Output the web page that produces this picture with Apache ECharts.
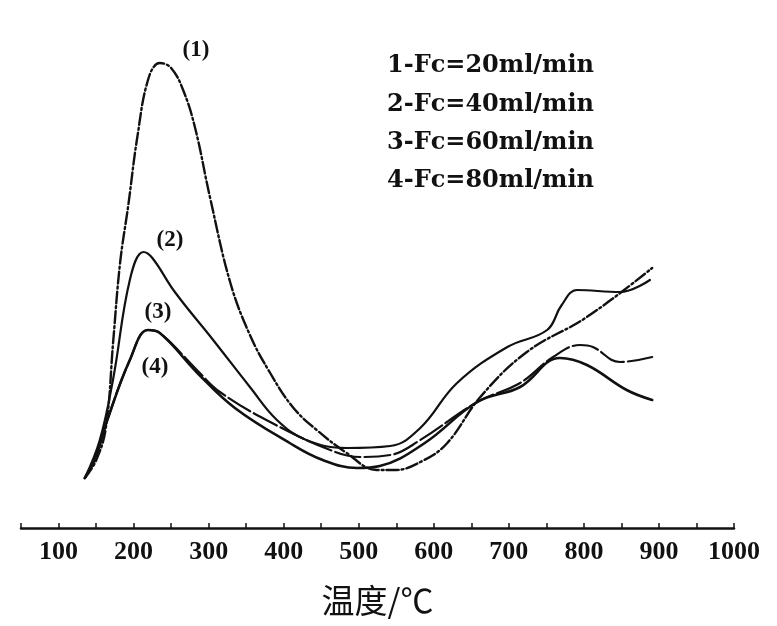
<!DOCTYPE html>
<html>
<head>
<meta charset="utf-8">
<script src="https://cdn.jsdelivr.net/npm/echarts/dist/echarts.min.js"></script>
<style>
html,body{margin:0;padding:0;background:#fff;}
#chart{width:777px;height:626px;}
</style>
</head>
<body>
<div id="chart"></div>
<script>
// ---- data (temperature °C, relative signal) ----
var curve1 = [[135,10],[150,13.5],[163,20],[173,37.6],[182,53],[193,64.6],[205,78.2],[220,90],[235,93],[250,92],[266,87.6],[282,80],[302,66],[329,49],[355,38.6],[382,31],[412,24.2],[444,19.6],[484,15],[524,11.6],[548,11.6],[586,13.5],[618,17],[662,26.2],[724,35.2],[804,42.2],[891,52]];
var curve2 = [[135,10],[155,17.6],[173,30],[195,49.6],[213,55.2],[225,54],[255,47.2],[306,37.6],[355,28.2],[391,21.6],[430,17.6],[484,16],[542,16.4],[582,20],[631,29],[698,36.2],[751,39.6],[770,44.5],[791,47.6],[848,47.2],[888,49.6]];
var curve3 = [[135,10],[149,14],[165,21.6],[195,33.6],[219,39.6],[235,39],[285,31],[335,24],[408,17],[452,13.6],[498,12],[528,12.4],[588,17],[658,25.2],[715,28.2],[768,34],[804,32.6],[857,27.6],[891,25.6]];
var curve4 = [[135,10],[149,14],[165,21.6],[195,33.6],[219,39.6],[235,39],[285,31.5],[315,27.2],[382,21.2],[462,15.6],[502,14.2],[542,14.6],[582,17.6],[658,25.2],[715,29],[759,34.2],[795,36.6],[812,36.2],[848,33.2],[891,34.2]];
var legendLines = ['1-Fc=20ml/min','2-Fc=40ml/min','3-Fc=60ml/min','4-Fc=80ml/min'];
var curveTags = ['(1)','(2)','(3)','(4)'];
var xAxisTitle = '温度/℃';

var chart = echarts.init(document.getElementById('chart'), null, {renderer:'canvas'});

function lineSeries(name, data, type, width){
  return {
    name: name, type: 'line', data: data, showSymbol: false, symbol: 'none',
    smooth: 0.4, animation: false,
    lineStyle: {color: '#111', width: width, type: type, cap: 'round', join: 'round'}
  };
}

var legendY = [68, 107, 145, 183];
var tagPos = [[196,50],[170,240],[158,312],[155,367]];
var graphics = [];
legendLines.forEach(function(t,i){
  graphics.push({type:'text', left:387, top:legendY[i]-14, style:{text:t, font:'bold 24px "DejaVu Serif"', fill:'#111'}});
});
curveTags.forEach(function(t,i){
  graphics.push({type:'text', x:tagPos[i][0], y:tagPos[i][1], style:{text:t, font:'bold 23px "Liberation Serif"', fill:'#111', textAlign:'center', textVerticalAlign:'middle'}});
});

chart.setOption({
  backgroundColor: '#fff',
  animation: false,
  grid: {left: 21, right: 43, top: 28, bottom: 98, containLabel: false},
  xAxis: {
    type: 'value', min: 50, max: 1000, interval: 50,
    name: xAxisTitle, nameLocation: 'middle', nameGap: 56,
    nameTextStyle: {fontFamily: '"Noto Sans CJK SC"', fontSize: 33, color: '#111'},
    axisLine: {show: true, onZero: false, lineStyle: {color: '#111', width: 2.5}},
    axisTick: {show: true, inside: true, length: 5, lineStyle: {color: '#111', width: 1.5}},
    axisLabel: {
      margin: 11, color: '#111', fontFamily: '"Liberation Serif"', fontWeight: 'bold', fontSize: 26,
      showMinLabel: true, showMaxLabel: true,
      formatter: function(v){ return (v % 100 === 0) ? String(v) : ''; }
    },
    splitLine: {show: false}
  },
  yAxis: {
    type: 'value', min: 0, max: 100, show: false,
    splitLine: {show: false}
  },
  series: [
    lineSeries('1', curve1, [12,3,2,3], 2.4),
    lineSeries('2', curve2, 'solid', 2.2),
    lineSeries('3', curve3, 'solid', 2.6),
    lineSeries('4', curve4, [26,4], 2.2)
  ],
  graphic: graphics
});
</script>
</body>
</html>
